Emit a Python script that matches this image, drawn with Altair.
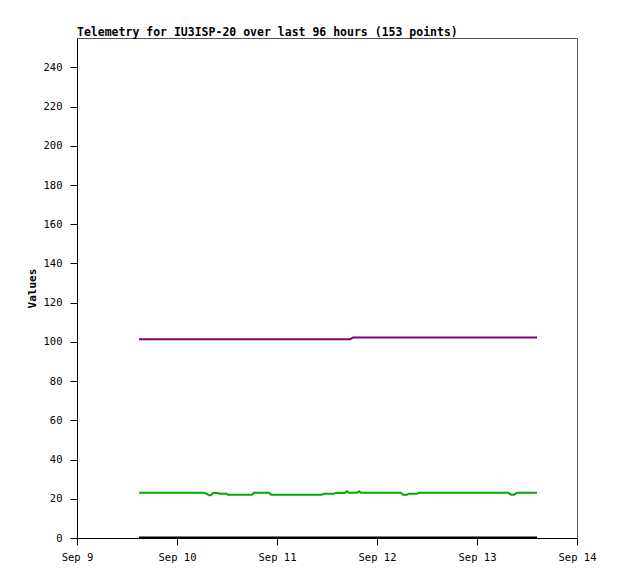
import altair as alt
import pandas as pd

title_text = "Telemetry for IU3ISP-20 over last 96 hours (153 points)"

series_names = ["Analog 1", "Analog 2", "Analog 3"]
series_colors = ["#800080", "#00aa00", "#000000"]

purple_times = ["2024-09-09T14:53:00", "2024-09-11T17:35:00", "2024-09-11T18:14:00",
                "2024-09-13T14:24:00"]
purple_values = [101.3, 101.3, 102.3, 102.3]

green_times = [
    "2024-09-09T14:53:00", "2024-09-10T06:29:00", "2024-09-10T07:12:00",
    "2024-09-10T07:41:00", "2024-09-10T08:10:00", "2024-09-10T08:38:00",
    "2024-09-10T09:50:00", "2024-09-10T10:19:00", "2024-09-10T11:46:00",
    "2024-09-10T12:14:00", "2024-09-10T18:00:00", "2024-09-10T18:29:00",
    "2024-09-10T22:05:00", "2024-09-10T22:34:00", "2024-09-11T10:48:00",
    "2024-09-11T11:17:00", "2024-09-11T13:41:00", "2024-09-11T14:10:00",
    "2024-09-11T16:19:00", "2024-09-11T16:48:00", "2024-09-11T17:17:00",
    "2024-09-11T19:12:00", "2024-09-11T19:41:00", "2024-09-11T20:10:00",
    "2024-09-12T05:46:00", "2024-09-12T06:14:00", "2024-09-12T07:12:00",
    "2024-09-12T07:41:00", "2024-09-12T09:36:00", "2024-09-12T10:05:00",
    "2024-09-13T07:26:00", "2024-09-13T08:10:00", "2024-09-13T08:53:00",
    "2024-09-13T09:36:00", "2024-09-13T14:24:00",
]
green_values = [
    23.1, 23.1, 22.5,
    21.8, 21.8, 22.9,
    22.9, 22.6, 22.6,
    22.1, 22.1, 23.1,
    23.1, 22.1, 22.1,
    22.6, 22.6, 23.0,
    23.0, 23.8, 23.1,
    23.1, 23.8, 23.1,
    23.1, 22.1, 22.1,
    22.6, 22.6, 23.1,
    23.1, 22.1, 22.1,
    23.1, 23.1,
]

black_times = ["2024-09-09T14:53:00", "2024-09-13T14:24:00"]
black_values = [0.3, 0.3]

y_ticks = list(range(0, 241, 20))
x_tick_days = [9, 10, 11, 12, 13, 14]

rows = []
for name, ts, vs in [(series_names[0], purple_times, purple_values),
                     (series_names[1], green_times, green_values),
                     (series_names[2], black_times, black_values)]:
    for t, v in zip(ts, vs):
        rows.append({"series": name, "time": t, "value": v})
df = pd.DataFrame(rows)

FONT = "DejaVu Sans Mono"

chart = alt.Chart(
    df,
    title=alt.TitleParams(title_text, anchor="start", frame="group", offset=0),
).mark_line(strokeWidth=2).encode(
    x=alt.X(
        "time:T",
        scale=alt.Scale(domain=[alt.DateTime(year=2024, month=9, date=9),
                                alt.DateTime(year=2024, month=9, date=14)]),
        axis=alt.Axis(title=None,
                      values=[alt.DateTime(year=2024, month=9, date=d) for d in x_tick_days],
                      format="%b %-d", labelPadding=7, labelFlush=False),
    ),
    y=alt.Y(
        "value:Q",
        scale=alt.Scale(domain=[0, 255], nice=False),
        axis=alt.Axis(title="Values", values=y_ticks, labelPadding=8, titlePadding=6),
    ),
    color=alt.Color("series:N",
                    scale=alt.Scale(domain=series_names, range=series_colors),
                    legend=None),
).properties(
    width=500,
    height=500,
    autosize=alt.AutoSizeParams(type="none"),
    padding={"left": 69, "top": 30, "right": 33, "bottom": 33},
).configure_view(
    stroke="#555555", strokeWidth=1
).configure_axis(
    grid=False,
    domainColor="black",
    tickColor="black",
    tickSize=7,
    labelFont=FONT,
    labelFontSize=10.5,
    labelColor="black",
    titleFont=FONT,
    titleFontSize=11,
    titleFontWeight="bold",
    titleColor="black",
).configure_title(
    font=FONT,
    fontSize=11.5,
    fontWeight="bold",
    color="black",
)

chart.save("out.html", embed_options={"renderer": "svg", "actions": False})
